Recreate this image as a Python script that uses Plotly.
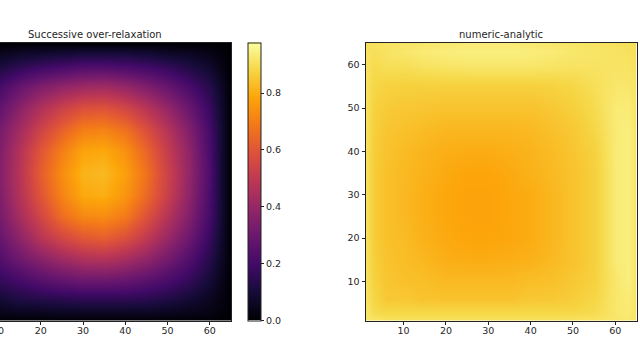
import plotly.graph_objects as go

inferno = [[0.0,'#000004'],[0.1,'#160b39'],[0.2,'#420a68'],[0.3,'#6a176e'],[0.4,'#932667'],[0.5,'#bc3754'],
           [0.6,'#dd513a'],[0.7,'#f37819'],[0.8,'#fca50a'],[0.9,'#f6d746'],[1.0,'#fcffa4']]

left_title = "Successive over-relaxation"
right_title = "numeric-analytic"

left_x = [10,15,20,25,30,35,40,45,50,55,60,63,65]
left_y = [1,3,6,10,15,20,25,30,35,40,45,50,55,60,63,65]
left_z = [
 [0,0,0,0,0,0,0,0,0,0,0,0,0],
 [.04,.05,.05,.06,.06,.06,.06,.06,.05,.04,.03,.01,0],
 [.09,.12,.13,.14,.15,.15,.15,.14,.12,.09,.05,.02,0],
 [.16,.20,.24,.27,.29,.29,.28,.25,.21,.16,.09,.03,0],
 [.23,.30,.36,.41,.45,.46,.43,.38,.31,.23,.13,.05,0],
 [.28,.38,.48,.55,.60,.62,.58,.50,.40,.30,.17,.06,0],
 [.32,.44,.55,.66,.72,.73,.69,.59,.47,.35,.20,.07,0],
 [.34,.47,.60,.71,.79,.80,.75,.65,.52,.38,.21,.07,0],
 [.35,.48,.62,.73,.81,.82,.77,.67,.53,.39,.22,.07,0],
 [.34,.47,.60,.70,.78,.79,.74,.64,.51,.38,.21,.07,0],
 [.32,.43,.54,.63,.70,.71,.67,.58,.47,.35,.20,.07,0],
 [.27,.37,.46,.53,.58,.59,.55,.48,.39,.29,.17,.06,0],
 [.20,.28,.34,.38,.41,.42,.39,.34,.28,.21,.13,.05,0],
 [.10,.14,.17,.19,.21,.21,.20,.18,.15,.11,.07,.02,0],
 [.04,.06,.07,.08,.09,.09,.09,.08,.06,.05,.03,.01,0],
 [0,0,0,0,0,0,0,0,0,0,0,0,0],
]

right_x = [1,3,6,10,15,20,25,30,35,40,45,50,55,60,63,65]
right_y = [1,3,6,10,15,20,25,30,35,40,45,50,55,60,63,65]
right_z = [
 [.94,.94,.93,.93,.93,.93,.93,.93,.93,.93,.93,.93,.93,.94,.94,.93],
 [.94,.91,.90,.90,.90,.90,.90,.90,.90,.90,.90,.90,.91,.94,.95,.93],
 [.93,.90,.87,.87,.86,.86,.86,.86,.86,.87,.87,.88,.90,.94,.95,.93],
 [.93,.89,.865,.855,.85,.84,.84,.84,.84,.85,.855,.87,.89,.94,.96,.93],
 [.93,.885,.86,.85,.835,.82,.815,.815,.82,.825,.84,.86,.885,.95,.96,.93],
 [.93,.88,.855,.845,.825,.81,.80,.80,.805,.815,.835,.86,.885,.95,.96,.93],
 [.93,.88,.855,.84,.82,.805,.795,.795,.805,.815,.835,.86,.885,.95,.96,.93],
 [.93,.88,.855,.84,.82,.805,.795,.795,.805,.815,.835,.86,.885,.95,.96,.93],
 [.93,.88,.855,.84,.825,.81,.80,.80,.81,.825,.84,.86,.885,.95,.96,.93],
 [.93,.88,.86,.845,.83,.82,.815,.815,.82,.83,.845,.865,.89,.95,.96,.93],
 [.93,.885,.865,.855,.845,.835,.835,.835,.835,.84,.855,.87,.90,.95,.96,.93],
 [.93,.89,.875,.87,.865,.86,.86,.86,.86,.86,.87,.885,.91,.95,.95,.93],
 [.93,.90,.89,.885,.885,.885,.885,.885,.885,.885,.89,.90,.92,.94,.94,.93],
 [.93,.91,.92,.92,.93,.935,.94,.94,.94,.94,.935,.93,.93,.93,.93,.92],
 [.93,.92,.93,.94,.95,.955,.96,.96,.96,.955,.95,.94,.935,.93,.925,.92],
 [.92,.925,.93,.935,.94,.945,.95,.95,.95,.945,.94,.935,.93,.925,.92,.92],
]

left_xticks = [20,30,40,50,60]
right_xticks = [10,20,30,40,50,60]
right_yticks = [10,20,30,40,50,60]
cbar_ticks = [0.0,0.2,0.4,0.6,0.8]
cbar_labels = ["0.0","0.2","0.4","0.6","0.8"]

W, H = 640, 360
TXT = '#262626'
FONT = dict(family="DejaVu Sans", size=9.5, color=TXT)
top, bottom = 43, 320.5
ydom = [1-bottom/H, 1-top/H]

fig = go.Figure()
fig.add_trace(go.Heatmap(x=left_x, y=left_y, z=left_z, zmin=0, zmax=0.978, colorscale=inferno,
    zsmooth='best', xaxis='x', yaxis='y', hoverinfo='skip',
    colorbar=dict(x=248/W, xanchor='left', xpad=0, ypad=0, y=ydom[0], yanchor='bottom',
                  len=(bottom-top)/H, lenmode='fraction', thickness=13, thicknessmode='pixels',
                  outlinewidth=1, outlinecolor='#222',
                  tickmode='array', tickvals=cbar_ticks, ticktext=cbar_labels, ticks='outside',
                  ticklen=3, tickwidth=1, tickcolor='#222', tickfont=FONT)))
fig.add_trace(go.Heatmap(x=right_x, y=right_y, z=right_z, zmin=0, zmax=1, colorscale=inferno,
    zsmooth='best', xaxis='x2', yaxis='y2', showscale=False, hoverinfo='skip'))

axis_common = dict(showgrid=False, zeroline=False, ticks='outside', ticklen=3, tickwidth=1,
                   tickcolor='#222', tickfont=FONT, showline=True, linecolor='#222', linewidth=1)
fig.update_layout(
    width=W, height=H, margin=dict(l=0, r=0, t=0, b=0), autosize=False,
    paper_bgcolor='white', plot_bgcolor='white', showlegend=False,
    xaxis=dict(domain=[0, 231/W], range=[65-231/4.226, 65], anchor='y', mirror=True,
               ticklabelstandoff=-2, tickmode='array', tickvals=left_xticks, **axis_common),
    yaxis=dict(domain=ydom, range=[1, 65], anchor='x', side='right', showgrid=False, zeroline=False,
               showline=True, linecolor='#222', linewidth=1, ticks='', showticklabels=False),
    xaxis2=dict(domain=[365.5/W, 636.5/W], range=[1, 65], anchor='y2', mirror=True,
                ticklabelstandoff=-2, tickmode='array', tickvals=right_xticks, **axis_common),
    yaxis2=dict(domain=ydom, range=[1, 65], anchor='x2', mirror=True,
                tickmode='array', tickvals=right_yticks, **axis_common),
    annotations=[
        dict(text=left_title, xref='paper', yref='paper', x=94.5/W, y=1-42/H, xanchor='center', yanchor='bottom',
             showarrow=False, font=dict(family="DejaVu Sans", size=10, color=TXT)),
        dict(text=right_title, xref='paper', yref='paper', x=501/W, y=1-42/H, xanchor='center', yanchor='bottom',
             showarrow=False, font=dict(family="DejaVu Sans", size=10, color=TXT)),
        dict(text="10", xref='paper', yref='paper', x=-2/W, y=1-323.5/H, xanchor='center', yanchor='top',
             showarrow=False, font=FONT, borderpad=0),
    ],
)
fig.write_html("out.html", config={"displayModeBar": False},
               post_script="document.body.style.margin='0';document.body.style.overflow='hidden';")
